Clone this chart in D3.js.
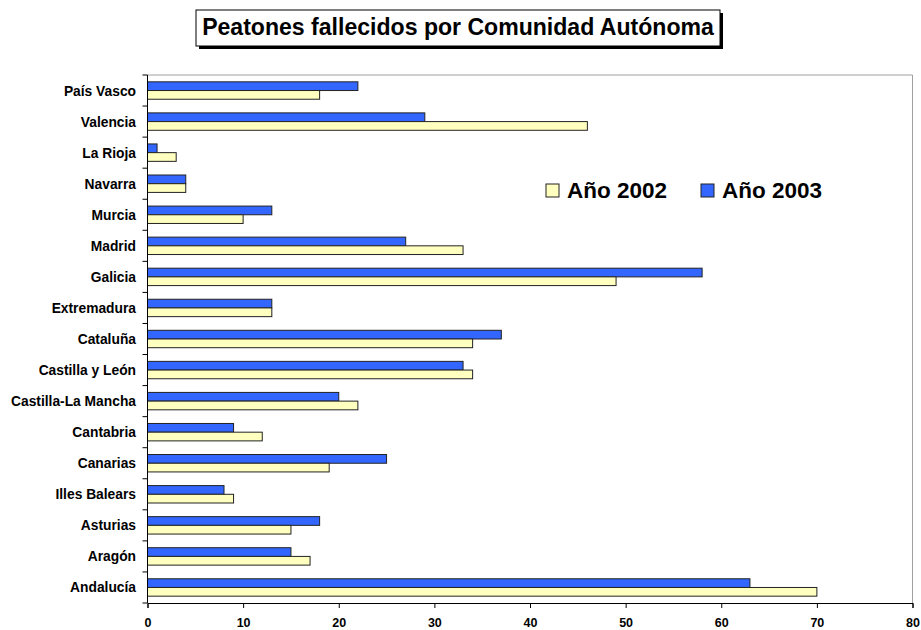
<!DOCTYPE html>
<html>
<head>
<meta charset="utf-8">
<script src="https://cdn.jsdelivr.net/npm/d3@7"></script>
<style>
  body { margin: 0; background: #fff; }
  svg text { font-family: "Liberation Sans", Arial, sans-serif; font-weight: bold; fill: #000; }
</style>
</head>
<body>
<div id="chart"></div>
<script>
// datos (de abajo a arriba en el gráfico)
var comunidades = ["Andalucía", "Aragón", "Asturias", "Illes Balears", "Canarias", "Cantabria",
  "Castilla-La Mancha", "Castilla y León", "Cataluña", "Extremadura", "Galicia", "Madrid",
  "Murcia", "Navarra", "La Rioja", "Valencia", "País Vasco"]
var anio2002 = [70, 17, 15, 9, 19, 12, 22, 34, 34, 13, 49, 33, 10, 4, 3, 46, 18]
var anio2003 = [63, 15, 18, 8, 25, 9, 20, 33, 37, 13, 58, 27, 13, 4, 1, 29, 22]
var series = ["Año 2002", "Año 2003"]
var colores = ["#FFFFC0", "#3366FF"]
var xTicks = [0, 10, 20, 30, 40, 50, 60, 70, 80]

function drawChart() {
  var width = 921, height = 630
  var pLeft = 147.5, pRight = 912.5, pTop = 75, pBottom = 603

  var svg = d3.select("#chart").append("svg")
    .attr("width", width)
    .attr("height", height)

  // titulo con caja y sombra
  var tg = svg.append("g")
  tg.append("rect").attr("x", 199).attr("y", 13).attr("width", 524).attr("height", 36).attr("fill", "#000")
  tg.append("rect").attr("x", 196).attr("y", 10).attr("width", 524).attr("height", 36)
    .attr("fill", "#fff").attr("stroke", "#000").attr("stroke-width", 1)
  var title = tg.append("text")
    .attr("x", 458).attr("y", 35)
    .attr("text-anchor", "middle")
    .attr("font-size", 22)
    .text("Peatones fallecidos por Comunidad Autónoma")
  var tw = title.node().getComputedTextLength()
  title.attr("font-size", 22 * 512 / tw)

  var x = d3.scaleLinear().domain([0, 80]).range([pLeft, pRight])
  var y = d3.scaleBand().domain(comunidades.slice().reverse()).range([pTop, pBottom])

  // borde gris del area de trazado
  svg.append("path")
    .attr("d", "M" + pLeft + "," + pTop + "L" + pRight + "," + pTop + "L" + pRight + "," + pBottom)
    .attr("fill", "none").attr("stroke", "#a0a0a0").attr("stroke-width", 1)

  var barH = 8.7
  var rows = comunidades.map(function (c, i) {
    return { name: c, v2002: anio2002[i], v2003: anio2003[i] }
  })

  var g = svg.append("g")
  // barras 2003 (arriba)
  g.selectAll(".b2003").data(rows).enter().append("rect")
    .attr("class", "b2003")
    .attr("x", x(0))
    .attr("y", d => y(d.name) + y.bandwidth() / 2 - barH)
    .attr("width", d => x(d.v2003) - x(0))
    .attr("height", barH)
    .attr("fill", colores[1])
    .attr("stroke", "#222").attr("stroke-width", 1)
  // barras 2002 (abajo)
  g.selectAll(".b2002").data(rows).enter().append("rect")
    .attr("class", "b2002")
    .attr("x", x(0))
    .attr("y", d => y(d.name) + y.bandwidth() / 2)
    .attr("width", d => x(d.v2002) - x(0))
    .attr("height", barH)
    .attr("fill", colores[0])
    .attr("stroke", "#222").attr("stroke-width", 1)

  // eje x
  var xAxis = svg.append("g")
    .attr("transform", "translate(0," + pBottom + ")")
    .call(d3.axisBottom(x).tickValues(xTicks).tickSize(5).tickPadding(10))
  xAxis.attr("font-family", null).attr("font-size", null)
  xAxis.select(".domain").attr("stroke", "#000")
  xAxis.selectAll("line").attr("stroke", "#000")
  xAxis.selectAll("text").attr("font-size", 12.5)

  // eje y: marcas en los limites de cada categoria
  svg.append("line").attr("x1", pLeft).attr("x2", pLeft).attr("y1", pTop).attr("y2", pBottom)
    .attr("stroke", "#000")
  var bounds = d3.range(comunidades.length + 1).map(i => pTop + i * y.step())
  svg.selectAll(".ytick").data(bounds).enter().append("line")
    .attr("class", "ytick")
    .attr("x1", pLeft - 5).attr("x2", pLeft)
    .attr("y1", d => d).attr("y2", d => d)
    .attr("stroke", "#000")
  svg.selectAll(".ylab").data(comunidades).enter().append("text")
    .attr("class", "ylab")
    .attr("x", 136)
    .attr("y", d => y(d) + y.bandwidth() / 2 + 5)
    .attr("text-anchor", "end")
    .attr("font-size", 13.8)
    .text(d => d)

  // leyenda
  var legX = [546, 701]
  var leg = svg.selectAll(".leg").data(series).enter().append("g")
    .attr("class", "leg")
    .attr("transform", (d, i) => "translate(" + legX[i] + ",184)")
  leg.append("rect").attr("width", 13).attr("height", 13)
    .attr("fill", (d, i) => colores[i]).attr("stroke", "#222")
  leg.append("text").attr("x", 21).attr("y", 13.5)
    .attr("font-size", 22.5)
    .text(d => d)
}
drawChart()
</script>
</body>
</html>
